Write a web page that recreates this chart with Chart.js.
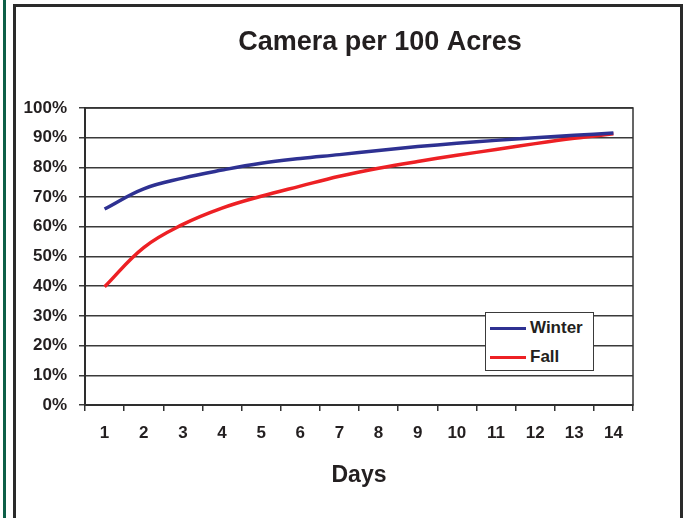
<!DOCTYPE html>
<html>
<head>
<meta charset="utf-8">
<script src="https://cdn.jsdelivr.net/npm/chart.js@4/dist/chart.umd.min.js"></script>
<style>
  html, body { margin: 0; padding: 0; background: #fff; }
  #wrap { position: relative; width: 685px; height: 518px; overflow: hidden; }
  #greenbar { position: absolute; left: 3px; top: 0; width: 3px; height: 518px; background: #0d5f47; }
  #frame { position: absolute; left: 13px; top: 4px; width: 664px; height: 530px;
           border: 3px solid #2a2a2a; border-bottom: none; }
  #chart { position: absolute; left: 0; top: 0; }
  #legend { position: absolute; left: 485px; top: 312px; width: 107px; height: 57px;
            border: 1.5px solid #3a3a3a; background: #fff;
            font: bold 17px "Liberation Sans", Arial, sans-serif; color: #231f20; }
  .row { position: absolute; left: 0; height: 20px; display: flex; align-items: center; }
  .swatch { width: 36px; height: 3px; margin-left: 4px; margin-right: 4px; }
</style>
</head>
<body>
<div id="wrap">
  <div id="greenbar"></div>
  <div id="frame"></div>
  <canvas id="chart" width="685" height="518"></canvas>
  <div id="legend"></div>
</div>
<script>
const days = ['1', '2', '3', '4', '5', '6', '7', '8', '9', '10', '11', '12', '13', '14'];
const winter = [66, 72.8, 76.4, 79.1, 81.4, 83, 84.3, 85.7, 87, 88.1, 89.1, 90, 90.8, 91.6];
const fall = [39.8, 53, 60.8, 66.3, 70.3, 73.7, 77, 79.7, 82, 84.1, 86, 88, 89.8, 91.3];
const yTicks = [0, 10, 20, 30, 40, 50, 60, 70, 80, 90, 100];

const FONT = '"Liberation Sans", Arial, sans-serif';
const INK = '#231f20';

// title sits a bit right of the plot centre, so draw it ourselves
const titlePlugin = {
  id: 'titleText',
  afterDraw(chart) {
    const ctx = chart.ctx;
    ctx.save();
    ctx.font = 'bold 27px ' + FONT;
    ctx.fillStyle = INK;
    ctx.textAlign = 'center';
    ctx.textBaseline = 'middle';
    ctx.fillText('Camera per 100 Acres', 380, 43);
    ctx.restore();
  },
};

// box round the plot area
const plotBorder = {
  id: 'plotBorder',
  beforeDatasetsDraw(chart) {
    const { ctx, chartArea: a } = chart;
    ctx.save();
    ctx.strokeStyle = '#333';
    ctx.lineWidth = 1.5;
    ctx.strokeRect(a.left, a.top, a.right - a.left, a.bottom - a.top);
    ctx.restore();
  },
};

const ctx = document.getElementById('chart').getContext('2d');
const chart = new Chart(ctx, {
  type: 'line',
  data: {
    labels: days,
    datasets: [
      {
        label: 'Winter',
        data: winter,
        borderColor: '#2e3192',
        borderWidth: 3.5,
        tension: 0.4,
      },
      {
        label: 'Fall',
        data: fall,
        borderColor: '#ed2024',
        borderWidth: 3.5,
        tension: 0.4,
      },
    ],
  },
  options: {
    responsive: false,
    animation: false,
    layout: { padding: { top: 108, right: 52, left: 0, bottom: 0 } },
    elements: { point: { radius: 0 } },
    plugins: {
      legend: { display: false },
      title: { display: false },
      tooltip: { enabled: false },
    },
    scales: {
      x: {
        offset: true,
        grid: { offset: true, drawOnChartArea: false, tickLength: 6, color: '#333', lineWidth: 1.5 },
        border: { color: '#222', width: 2 },
        ticks: { color: INK, padding: 12, font: { family: FONT, size: 17, weight: 'bold' } },
        title: {
          display: true,
          text: 'Days',
          color: INK,
          padding: { top: 0, bottom: 29 },
          font: { family: FONT, size: 23, weight: 'bold' },
        },
        afterFit(scale) { scale.height = 113; },
      },
      y: {
        min: 0,
        max: 100,
        afterBuildTicks(scale) { scale.ticks = yTicks.map(v => ({ value: v })); },
        grid: { color: '#3a3a3a', lineWidth: 1.5, tickLength: 6 },
        border: { color: '#222', width: 2 },
        ticks: {
          color: INK,
          padding: 12,
          font: { family: FONT, size: 17, weight: 'bold' },
          callback: v => v + '%',
        },
        afterFit(scale) { scale.width = 85; },
      },
    },
  },
  plugins: [titlePlugin, plotBorder],
});

// legend box inside the plot, built from the datasets
const legend = document.getElementById('legend');
chart.data.datasets.forEach((ds, i) => {
  const row = document.createElement('div');
  row.className = 'row';
  row.style.top = (5 + i * 29) + 'px';
  const sw = document.createElement('span');
  sw.className = 'swatch';
  sw.style.background = ds.borderColor;
  const txt = document.createElement('span');
  txt.textContent = ds.label;
  row.appendChild(sw);
  row.appendChild(txt);
  legend.appendChild(row);
});
</script>
</body>
</html>
